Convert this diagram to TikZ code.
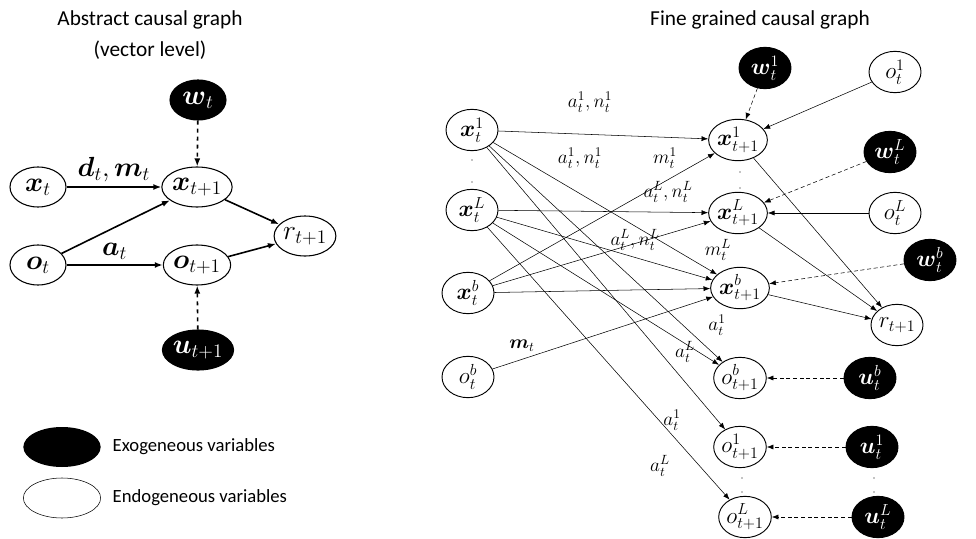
\documentclass[tikz,border=0pt]{standalone}
\usepackage{amsmath,amssymb}
\usepackage{fontspec}
\newfontfamily\sansf{Carlito}
\usetikzlibrary{arrows.meta,shapes.geometric}
\begin{document}
\begin{tikzpicture}[x=0.75pt,y=-0.75pt,
  en/.style={ellipse,draw,line width=0.8pt,minimum width=42pt,minimum height=30pt,inner sep=0pt,font=\huge},
  sn/.style={ellipse,draw,line width=0.7pt,minimum width=39pt,minimum height=31pt,inner sep=0pt,font=\LARGE},
  ex/.style={en,fill=black,text=white},
  sx/.style={sn,fill=black,text=white},
  tk/.style={line width=1.2pt,-{Latex[length=6pt]}},
  th/.style={line width=0.4pt,-{Latex[length=5pt]}},
  dsh/.style={th,densely dashed},
  lb/.style={font=\Large},
  ttl/.style={font=\sansf\fontsize{16}{18}\selectfont}]
\useasboundingbox (0,0) rectangle (976,539);
% titles
\node[ttl] (t1) at (150,20) {Abstract causal graph};
\node[ttl] (t2) at (150,50) {(vector level)};
\node[ttl] (t3) at (760,20) {Fine grained causal graph};
% left graph
\node[en] (xt) at (38,187) {$\boldsymbol{x}_t$};
\node[en] (ot) at (38,265) {$\boldsymbol{o}_t$};
\node[ex] (wt) at (198,100) {$\boldsymbol{w}_t$};
\node[en] (xt1) at (197,187) {$\boldsymbol{x}_{t+1}$};
\node[en] (ot1) at (197,265) {$\boldsymbol{o}_{t+1}$};
\node[ex] (ut1) at (198,350) {$\boldsymbol{u}_{t+1}$};
\node[en] (rt1) at (305,236) {$r_{t+1}$};
\draw[tk] (xt) -- node[above,font=\huge]{$\boldsymbol{d}_t,\boldsymbol{m}_t$} (xt1);
\draw[tk] (ot) -- node[above,font=\huge]{$\boldsymbol{a}_t$} (ot1);
\draw[tk] (ot) -- (xt1);
\draw[tk] (xt1) -- (rt1);
\draw[tk] (ot1) -- (rt1);
\draw[tk,dashed] (wt) -- (xt1);
\draw[tk,dashed] (ut1) -- (ot1);
% legend
\node[ellipse,fill=black,minimum width=58pt,minimum height=30pt] (lg1) at (62,447) {};
\node[ellipse,draw,minimum width=58pt,minimum height=30pt] (lg2) at (62,498) {};
\node[anchor=west,font=\sansf\fontsize{14}{16}\selectfont] (lt1) at (108,447) {Exogeneous variables};
\node[anchor=west,font=\sansf\fontsize{14}{16}\selectfont] (lt2) at (108,498) {Endogeneous variables};
% right graph
\node[sn] (a1) at (472,130) {$\boldsymbol{x}^1_t$};
\node[sn] (aL) at (472,210) {$\boldsymbol{x}^L_t$};
\node[sn] (ab) at (468,293) {$\boldsymbol{x}^b_t$};
\node[sn] (aob) at (468,377) {$o^b_t$};
\node[sn] (b1) at (738,140) {$\boldsymbol{x}^1_{t+1}$};
\node[sn] (bL) at (738,213) {$\boldsymbol{x}^L_{t+1}$};
\node[sn] (bb) at (740,288) {$\boldsymbol{x}^b_{t+1}$};
\node[sn] (cb) at (740,378) {$o^b_{t+1}$};
\node[sn] (c1) at (740,447) {$o^1_{t+1}$};
\node[sn] (cL) at (745,517) {$o^L_{t+1}$};
\node[sn] (r) at (897,325) {$r_{t+1}$};
\node[sx] (w1) at (765,68) {$\boldsymbol{w}^1_t$};
\node[sn] (o1) at (895,72) {$o^1_t$};
\node[sx] (wL) at (890,152) {$\boldsymbol{w}^L_t$};
\node[sn] (oL) at (895,213) {$o^L_t$};
\node[sx] (wb) at (930,260) {$\boldsymbol{w}^b_t$};
\node[sx] (ub) at (870,378) {$\boldsymbol{u}^b_t$};
\node[sx] (u1) at (872,447) {$\boldsymbol{u}^1_t$};
\node[sx] (uL) at (878,517) {$\boldsymbol{u}^L_t$};
% dots
\foreach \p in {(472,160),(472,182),(740,172),(740,188),(742,478),(742,492),(874,478),(874,492)} \fill \p circle (0.7);
% edges
\draw[th] (a1) -- (b1);
\draw[th] (a1) -- (bb);
\draw[th] (a1) -- (cb);
\draw[th] (a1) -- (c1);
\draw[th] (aL) -- (bL);
\draw[th] (aL) -- (bb);
\draw[th] (aL) -- (cb);
\draw[th] (aL) -- (cL);
\draw[th] (ab) -- (b1);
\draw[th] (ab) -- (bL);
\draw[th] (ab) -- (bb);
\draw[th] (aob) -- (bb);
\draw[th] (b1) -- (r);
\draw[th] (bL) -- (r);
\draw[th] (bb) -- (r);
\draw[th] (o1) -- (b1);
\draw[th] (oL) -- (bL);
\draw[dsh] (w1) -- (b1);
\draw[dsh] (wL) -- (bL);
\draw[dsh] (wb) -- (bb);
\draw[dsh] (ub) -- (cb);
\draw[dsh] (u1) -- (c1);
\draw[dsh] (uL) -- (cL);
% labels
\node[lb] (l1) at (590,102) {$a^1_t,n^1_t$};
\node[lb] (l2) at (580,158) {$a^1_t,n^1_t$};
\node[lb] (l3) at (665,158) {$m^1_t$};
\node[lb] (l4) at (668,192) {$a^L_t,n^L_t$};
\node[lb] (l5) at (635,240) {$a^L_t,n^L_t$};
\node[lb] (l6) at (718,250) {$m^L_t$};
\node[lb] (l7) at (522,346) {$\boldsymbol{m}_t$};
\node[lb] (l8) at (717,325) {$a^1_t$};
\node[lb] (l9) at (685,352) {$a^L_t$};
\node[lb] (l10) at (672,420) {$a^1_t$};
\node[lb] (l11) at (660,466) {$a^L_t$};
\end{tikzpicture}
\end{document}
